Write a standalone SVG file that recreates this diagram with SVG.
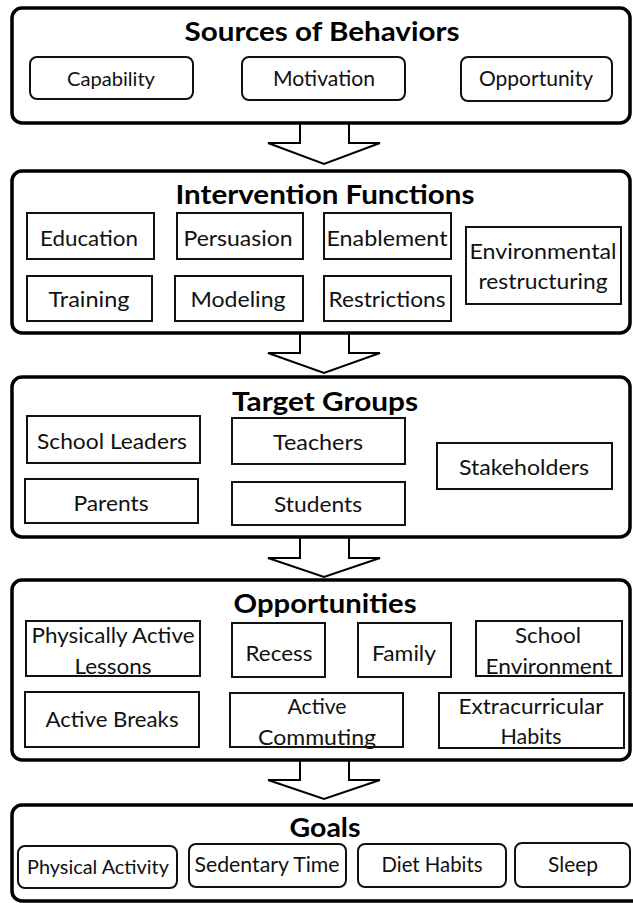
<svg xmlns="http://www.w3.org/2000/svg" width="633" height="903" viewBox="0 0 633 903">
  <style>
    .panel { fill: none; stroke: #000; stroke-width: 3.5; }
    .box { fill: none; stroke: #111; stroke-width: 2; }
    .arrow { fill: #fff; stroke: #000; stroke-width: 2; stroke-linejoin: miter; }
    text { font-family: Lato, "Open Sans", "Liberation Sans", sans-serif; fill: #111; text-anchor: middle; }
    .title { font-size: 26px; font-weight: bold; fill: #000; }
    .lbl { font-size: 21px; }
    .sm { font-size: 19px; }
  </style>
  <rect x="0" y="0" width="633" height="903" fill="#fff"/>

  <!-- block arrows between the stages -->
  <g id="connectors">
    <path class="arrow" d="M300,123 V143 H268 L324,164 L380,143 H349 V123"/>
    <path class="arrow" d="M300,333 V353 H268 L324,373 L380,353 H349 V333"/>
    <path class="arrow" d="M300,537 V558 H268 L324,577 L380,558 H349 V537"/>
    <path class="arrow" d="M300,760 V780 H268 L324,799 L380,780 H349 V760"/>
  </g>

  <!-- Stage 1 -->
  <g id="sources">
    <rect class="panel" x="12" y="8" width="618" height="115" rx="10"/>
    <text class="title" x="322" y="41" textLength="275" lengthAdjust="spacingAndGlyphs">Sources of Behaviors</text>
  </g>
  <g id="capability">
    <rect class="box" x="30" y="57" width="163" height="42" rx="7"/>
    <text class="sm" x="111" y="86" textLength="88" lengthAdjust="spacingAndGlyphs">Capability</text>
  </g>
  <g id="motivation">
    <rect class="box" x="242" y="57" width="163" height="43" rx="7"/>
    <text class="lbl" x="324" y="86" textLength="102" lengthAdjust="spacingAndGlyphs">Motivation</text>
  </g>
  <g id="opportunity">
    <rect class="box" x="461" y="57" width="151" height="44" rx="7"/>
    <text class="lbl" x="536" y="86" textLength="114" lengthAdjust="spacingAndGlyphs">Opportunity</text>
  </g>

  <!-- Stage 2 -->
  <g id="intervention-functions">
    <rect class="panel" x="12" y="171" width="618" height="162" rx="10"/>
    <text class="title" x="325" y="204" textLength="299" lengthAdjust="spacingAndGlyphs">Intervention Functions</text>
  </g>
  <g id="education">
    <rect class="box" x="27" y="213" width="127" height="46"/>
    <text class="lbl" x="89" y="246" textLength="98" lengthAdjust="spacingAndGlyphs">Education</text>
  </g>
  <g id="persuasion">
    <rect class="box" x="177" y="213" width="126" height="46"/>
    <text class="lbl" x="238" y="246" textLength="109" lengthAdjust="spacingAndGlyphs">Persuasion</text>
  </g>
  <g id="enablement">
    <rect class="box" x="324" y="213" width="127" height="46"/>
    <text class="lbl" x="387" y="246" textLength="121" lengthAdjust="spacingAndGlyphs">Enablement</text>
  </g>
  <g id="training">
    <rect class="box" x="27" y="276" width="125" height="45"/>
    <text class="lbl" x="89" y="307" textLength="81" lengthAdjust="spacingAndGlyphs">Training</text>
  </g>
  <g id="modeling">
    <rect class="box" x="175" y="276" width="128" height="45"/>
    <text class="lbl" x="238" y="307" textLength="95" lengthAdjust="spacingAndGlyphs">Modeling</text>
  </g>
  <g id="restrictions">
    <rect class="box" x="324" y="276" width="127" height="45"/>
    <text class="lbl" x="387" y="307" textLength="117" lengthAdjust="spacingAndGlyphs">Restrictions</text>
  </g>
  <g id="environmental-restructuring">
    <rect class="box" x="466" y="227" width="155" height="77"/>
    <text class="lbl" x="543" y="259" textLength="147" lengthAdjust="spacingAndGlyphs">Environmental</text>
    <text class="lbl" x="543" y="289" textLength="129" lengthAdjust="spacingAndGlyphs">restructuring</text>
  </g>

  <!-- Stage 3 -->
  <g id="target-groups">
    <rect class="panel" x="12" y="377" width="618" height="160" rx="10"/>
    <text class="title" x="325" y="411" textLength="186" lengthAdjust="spacingAndGlyphs">Target Groups</text>
  </g>
  <g id="school-leaders">
    <rect class="box" x="27" y="416" width="173" height="47"/>
    <text class="lbl" x="112" y="449" textLength="150" lengthAdjust="spacingAndGlyphs">School Leaders</text>
  </g>
  <g id="teachers">
    <rect class="box" x="232" y="418" width="173" height="46"/>
    <text class="lbl" x="318" y="450" textLength="90" lengthAdjust="spacingAndGlyphs">Teachers</text>
  </g>
  <g id="parents">
    <rect class="box" x="25" y="479" width="173" height="44"/>
    <text class="lbl" x="111" y="511" textLength="75" lengthAdjust="spacingAndGlyphs">Parents</text>
  </g>
  <g id="students">
    <rect class="box" x="232" y="482" width="173" height="43"/>
    <text class="lbl" x="318" y="512" textLength="88" lengthAdjust="spacingAndGlyphs">Students</text>
  </g>
  <g id="stakeholders">
    <rect class="box" x="437" y="443" width="175" height="46"/>
    <text class="lbl" x="524" y="475" textLength="130" lengthAdjust="spacingAndGlyphs">Stakeholders</text>
  </g>

  <!-- Stage 4 -->
  <g id="opportunities">
    <rect class="panel" x="12" y="580" width="618" height="180" rx="10"/>
    <text class="title" x="325" y="613" textLength="183" lengthAdjust="spacingAndGlyphs">Opportunities</text>
  </g>
  <g id="physically-active-lessons">
    <rect class="box" x="26" y="621" width="174" height="55"/>
    <text class="lbl" x="113" y="643" textLength="163" lengthAdjust="spacingAndGlyphs">Physically Active</text>
    <text class="lbl" x="113" y="674" textLength="77" lengthAdjust="spacingAndGlyphs">Lessons</text>
  </g>
  <g id="recess">
    <rect class="box" x="232" y="623" width="93" height="54"/>
    <text class="lbl" x="279" y="661" textLength="67" lengthAdjust="spacingAndGlyphs">Recess</text>
  </g>
  <g id="family">
    <rect class="box" x="358" y="623" width="93" height="54"/>
    <text class="lbl" x="404" y="661" textLength="64" lengthAdjust="spacingAndGlyphs">Family</text>
  </g>
  <g id="school-environment">
    <rect class="box" x="476" y="621" width="146" height="55"/>
    <text class="lbl" x="548" y="643" textLength="66" lengthAdjust="spacingAndGlyphs">School</text>
    <text class="lbl" x="549" y="674" textLength="127" lengthAdjust="spacingAndGlyphs">Environment</text>
  </g>
  <g id="active-breaks">
    <rect class="box" x="25" y="692" width="174" height="55"/>
    <text class="lbl" x="112" y="727" textLength="133" lengthAdjust="spacingAndGlyphs">Active Breaks</text>
  </g>
  <g id="active-commuting">
    <rect class="box" x="230" y="693" width="173" height="54"/>
    <text class="lbl" x="317" y="714" textLength="59" lengthAdjust="spacingAndGlyphs">Active</text>
    <text class="lbl" x="317" y="745" textLength="118" lengthAdjust="spacingAndGlyphs">Commuting</text>
  </g>
  <g id="extracurricular-habits">
    <rect class="box" x="439" y="693" width="185" height="55"/>
    <text class="lbl" x="531" y="714" textLength="145" lengthAdjust="spacingAndGlyphs">Extracurricular</text>
    <text class="lbl" x="531" y="744" textLength="61" lengthAdjust="spacingAndGlyphs">Habits</text>
  </g>

  <!-- Stage 5 (runs past the right and bottom edges) -->
  <g id="goals">
    <rect class="panel" x="12" y="805" width="630" height="96" rx="10"/>
    <text class="title" x="325" y="837" textLength="71" lengthAdjust="spacingAndGlyphs">Goals</text>
  </g>
  <g id="physical-activity">
    <rect class="box" x="18" y="846" width="159" height="42" rx="7"/>
    <text class="sm" x="98" y="874" textLength="142" lengthAdjust="spacingAndGlyphs">Physical Activity</text>
  </g>
  <g id="sedentary-time">
    <rect class="box" x="189" y="844" width="157" height="43" rx="7"/>
    <text class="lbl" x="267" y="872" textLength="145" lengthAdjust="spacingAndGlyphs">Sedentary Time</text>
  </g>
  <g id="diet-habits">
    <rect class="box" x="358" y="844" width="148" height="43" rx="7"/>
    <text class="lbl" x="432" y="872" textLength="101" lengthAdjust="spacingAndGlyphs">Diet Habits</text>
  </g>
  <g id="sleep">
    <rect class="box" x="515" y="843" width="115" height="44" rx="7"/>
    <text class="lbl" x="573" y="872" textLength="50" lengthAdjust="spacingAndGlyphs">Sleep</text>
  </g>
</svg>
